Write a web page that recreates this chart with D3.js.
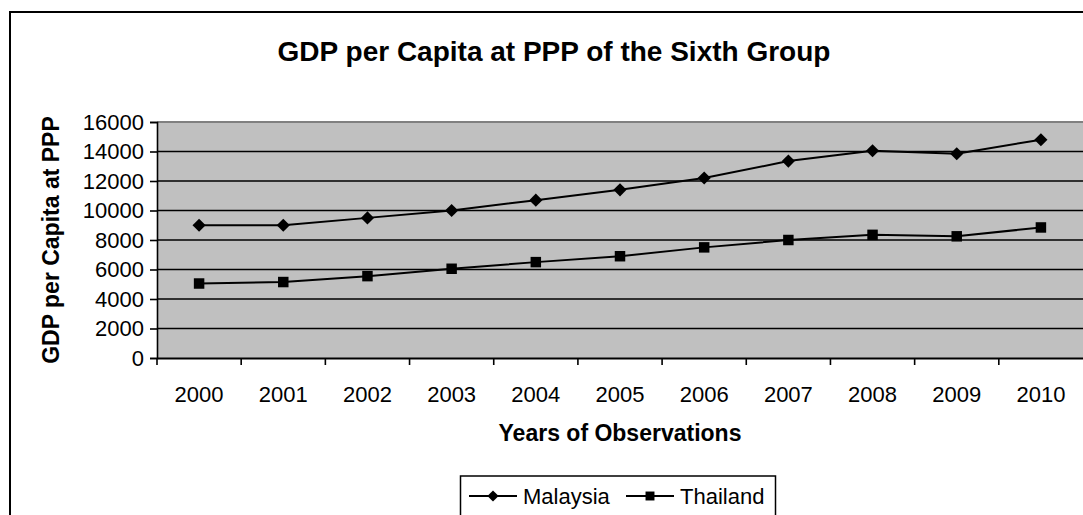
<!DOCTYPE html>
<html>
<head>
<meta charset="utf-8">
<script src="https://cdn.jsdelivr.net/npm/d3@7/dist/d3.min.js"></script>
<style>
  html, body { margin: 0; padding: 0; background: #fff; overflow: hidden; }
  svg { display: block; font-family: Arial, "Liberation Sans", sans-serif; }
</style>
</head>
<body>
<svg id="chart" width="1083" height="515"></svg>
<script>
// GDP per capita at PPP, 2000-2010
const years = ["2000", "2001", "2002", "2003", "2004", "2005", "2006", "2007", "2008", "2009", "2010"];
const malaysia = [9000, 9000, 9500, 10000, 10700, 11400, 12200, 13350, 14050, 13850, 14800];
const thailand = [5050, 5150, 5550, 6050, 6500, 6900, 7500, 8000, 8350, 8250, 8850];
const yTicks = [0, 2000, 4000, 6000, 8000, 10000, 12000, 14000, 16000];
const seriesNames = ["Malaysia", "Thailand"];

const svg = d3.select("#chart");

// chart frame (runs past the right and bottom edges of the view)
svg.append("rect")
  .attr("x", 10).attr("y", 12)
  .attr("width", 1088).attr("height", 520)
  .attr("fill", "#fff").attr("stroke", "#000").attr("stroke-width", 2);

const plot = { left: 157, right: 1083, top: 122, bottom: 358 };

const x = d3.scaleBand().domain(years).range([plot.left, plot.right]);
const y = d3.scaleLinear().domain([0, 16000]).range([plot.bottom, plot.top]);

// plot area background
svg.append("rect")
  .attr("x", plot.left).attr("y", plot.top)
  .attr("width", plot.right - plot.left).attr("height", plot.bottom - plot.top)
  .attr("fill", "#c0c0c0");

// horizontal gridlines
svg.append("g")
  .selectAll("line")
  .data(yTicks.filter(d => d > 0))
  .join("line")
  .attr("x1", plot.left).attr("x2", plot.right)
  .attr("y1", d => y(d)).attr("y2", d => y(d))
  .attr("stroke", d => d === 16000 ? "#808080" : "#000")
  .attr("stroke-width", d => d === 16000 ? 2 : 1.6);

// y axis
const yAxis = svg.append("g")
  .attr("transform", `translate(${plot.left},0)`)
  .call(d3.axisLeft(y).tickValues(yTicks).tickSize(7).tickPadding(6).tickFormat(d3.format("d")));
yAxis.select(".domain").attr("stroke", "#000").attr("stroke-width", 1.6);
yAxis.selectAll(".tick line").attr("stroke", "#000").attr("stroke-width", 1.6);
yAxis.selectAll(".tick text")
  .attr("fill", "#000").style("font-size", "22px")
  .style("font-family", "Arial, 'Liberation Sans', sans-serif");

// x axis with ticks on category boundaries
const xAxis = svg.append("g")
  .attr("transform", `translate(0,${plot.bottom})`)
  .call(d3.axisBottom(x).tickSize(0).tickPadding(28));
xAxis.select(".domain").attr("stroke", "#000").attr("stroke-width", 2);
xAxis.selectAll(".tick text")
  .attr("fill", "#000").style("font-size", "22px")
  .style("font-family", "Arial, 'Liberation Sans', sans-serif");
svg.append("g")
  .selectAll("line")
  .data(years)
  .join("line")
  .attr("x1", d => x(d)).attr("x2", d => x(d))
  .attr("y1", plot.bottom).attr("y2", plot.bottom + 7)
  .attr("stroke", "#000").attr("stroke-width", 1.6);

// series lines and markers
const line = d3.line()
  .x((d, i) => x(years[i]) + x.bandwidth() / 2)
  .y(d => y(d));

const diamond = d3.symbol().type(d3.symbolDiamond2).size(110);
const square = d3.symbol().type(d3.symbolSquare).size(110);

function drawSeries(values, symbol) {
  svg.append("path")
    .datum(values)
    .attr("d", line)
    .attr("fill", "none")
    .attr("stroke", "#000")
    .attr("stroke-width", 2);
  svg.append("g")
    .selectAll("path")
    .data(values)
    .join("path")
    .attr("transform", (d, i) => `translate(${x(years[i]) + x.bandwidth() / 2},${y(d)})`)
    .attr("d", symbol)
    .attr("fill", "#000");
}
drawSeries(malaysia, diamond);
drawSeries(thailand, square);

// titles
svg.append("text")
  .attr("x", 554).attr("y", 61)
  .attr("text-anchor", "middle")
  .style("font-size", "28px").style("font-weight", "bold")
  .text("GDP per Capita at PPP of the Sixth Group");

svg.append("text")
  .attr("transform", `translate(59,${(plot.top + plot.bottom) / 2}) rotate(-90)`)
  .attr("text-anchor", "middle")
  .style("font-size", "23px").style("font-weight", "bold")
  .text("GDP per Capita at PPP");

svg.append("text")
  .attr("x", (plot.left + plot.right) / 2).attr("y", 441)
  .attr("text-anchor", "middle")
  .style("font-size", "23px").style("font-weight", "bold")
  .text("Years of Observations");

// legend
const legend = svg.append("g");
legend.append("rect")
  .attr("x", 460.5).attr("y", 476)
  .attr("width", 315).attr("height", 60)
  .attr("fill", "#fff").attr("stroke", "#000").attr("stroke-width", 1.5);

const legendItems = [
  { name: seriesNames[0], x0: 469, symbol: d3.symbol().type(d3.symbolDiamond2).size(80) },
  { name: seriesNames[1], x0: 626, symbol: d3.symbol().type(d3.symbolSquare).size(80) }
];
const ly = 496;
legendItems.forEach(item => {
  legend.append("line")
    .attr("x1", item.x0).attr("x2", item.x0 + 48)
    .attr("y1", ly).attr("y2", ly)
    .attr("stroke", "#000").attr("stroke-width", 2);
  legend.append("path")
    .attr("transform", `translate(${item.x0 + 24},${ly})`)
    .attr("d", item.symbol)
    .attr("fill", "#000");
  legend.append("text")
    .attr("x", item.x0 + 54).attr("y", ly + 8)
    .style("font-size", "22px")
    .text(item.name);
});
</script>
</body>
</html>
